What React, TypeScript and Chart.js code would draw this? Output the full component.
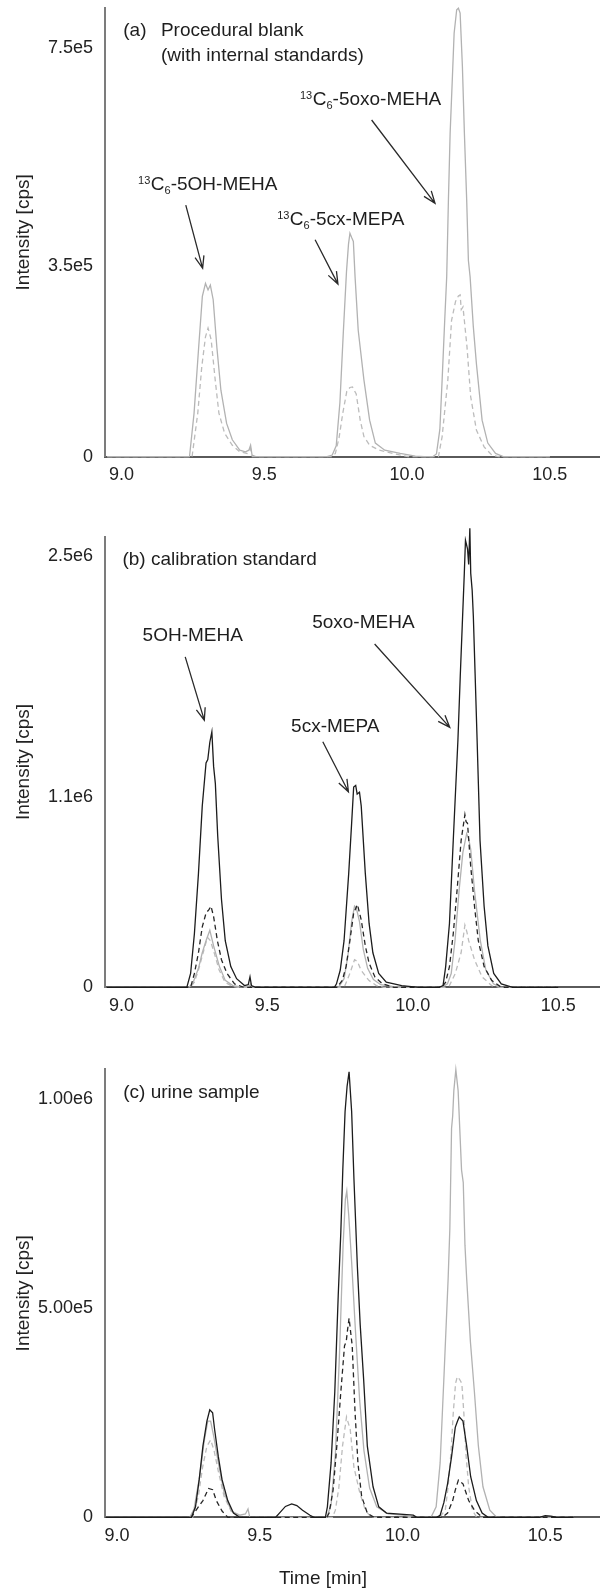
import React, { useEffect, useRef } from 'react';
import { Chart, registerables } from 'chart.js';

Chart.register(...registerables);

const FONT = "'Liberation Sans', Arial, sans-serif";

// ---- axis ticks ----
const X_TICKS = [9.0, 9.5, 10.0, 10.5];
const X_TICK_LABELS = ['9.0', '9.5', '10.0', '10.5'];

const A_Y_TICKS = [0, 350000, 750000];
const A_Y_LABELS = ['0', '3.5e5', '7.5e5'];
const B_Y_TICKS = [0, 1100000, 2500000];
const B_Y_LABELS = ['0', '1.1e6', '2.5e6'];
const C_Y_TICKS = [0, 500000, 1000000];
const C_Y_LABELS = ['0', '5.00e5', '1.00e6'];

// ---- panel (a): procedural blank, internal standards only [time min, intensity cps] ----
const A_IS_SOLID: [number, number][] = [
  [8.95, 0], [9.2, 0], [9.238, 0], [9.254, 8e4], [9.27, 2.0e5], [9.283, 2.94e5], [9.294, 3.18e5], [9.303, 3.06e5],
  [9.311, 3.15e5], [9.321, 2.88e5], [9.334, 2.0e5], [9.348, 1.22e5], [9.368, 6.1e4], [9.388, 3.1e4], [9.414, 1.2e4],
  [9.434, 9e3], [9.446, 1.2e4], [9.452, 2.1e4], [9.457, 3e3], [9.47, 0],
  [9.72, 0], [9.738, 3e3], [9.752, 2e4], [9.765, 1.0e5], [9.777, 2.3e5], [9.788, 3.4e5], [9.795, 3.9e5], [9.8, 4.1e5],
  [9.806, 4.02e5], [9.812, 3.95e5], [9.818, 3.3e5], [9.829, 2.32e5], [9.849, 1.41e5], [9.869, 6.7e4], [9.889, 2.5e4],
  [9.922, 1.2e4], [9.976, 6e3], [10.029, 1e3], [10.06, 0],
  [10.09, 0], [10.103, 5e3], [10.115, 5e4], [10.123, 1.41e5], [10.132, 2.5e5], [10.139, 3.3e5], [10.145, 4.71e5],
  [10.151, 5.93e5], [10.159, 6.97e5], [10.165, 7.77e5], [10.174, 8.2e5], [10.18, 8.23e5], [10.186, 8.14e5],
  [10.194, 7.16e5], [10.201, 5.93e5], [10.209, 4.71e5], [10.215, 3.6e5], [10.221, 3.3e5], [10.232, 2.4e5],
  [10.243, 1.71e5], [10.263, 6.7e4], [10.283, 2.5e4], [10.31, 6e3], [10.337, 0], [10.5, 0],
];
const A_IS_DASH: [number, number][] = [
  [8.95, 0], [9.247, 0], [9.267, 8e4], [9.281, 1.65e5], [9.294, 2.2e5], [9.303, 2.36e5], [9.309, 2.25e5], [9.314, 2.14e5],
  [9.328, 1.41e5], [9.341, 8e4], [9.361, 4.3e4], [9.388, 2.1e4], [9.414, 9e3], [9.44, 6e3], [9.452, 1.5e4], [9.458, 0],
  [9.735, 0], [9.749, 6e3], [9.762, 3.5e4], [9.775, 8e4], [9.789, 1.2e5], [9.8, 1.27e5], [9.809, 1.28e5], [9.822, 1.15e5],
  [9.836, 6.7e4], [9.849, 3.7e4], [9.869, 2.1e4], [9.902, 1.2e4], [9.949, 6e3], [10.003, 0],
  [10.11, 0], [10.123, 3.7e4], [10.143, 1.41e5], [10.156, 2.5e5], [10.17, 2.85e5], [10.18, 2.95e5], [10.186, 2.97e5],
  [10.19, 2.7e5], [10.196, 2.75e5], [10.21, 2.02e5], [10.223, 1.1e5], [10.243, 4.9e4], [10.27, 1.8e4], [10.297, 3e3],
  [10.32, 0], [10.5, 0],
];

// ---- panel (b): calibration standard ----
const B_SOLID: [number, number][] = [
  [8.95, 0], [9.224, 0], [9.237, 8e4], [9.25, 3.1e5], [9.264, 6.6e5], [9.277, 1.05e6], [9.29, 1.3e6], [9.296, 1.32e6],
  [9.303, 1.42e6], [9.31, 1.48e6], [9.316, 1.28e6], [9.322, 1.18e6], [9.33, 8.8e5], [9.343, 5.1e5], [9.356, 2.7e5],
  [9.375, 1.2e5], [9.395, 5e4], [9.422, 1e4], [9.435, 1.5e4], [9.441, 6e4], [9.446, 1e4], [9.46, 0],
  [9.731, 0], [9.738, 2e4], [9.751, 1e5], [9.764, 2.7e5], [9.78, 6.6e5], [9.79, 9.5e5], [9.797, 1.16e6], [9.804, 1.17e6],
  [9.809, 1.12e6], [9.817, 1.13e6], [9.823, 1.05e6], [9.837, 6.6e5], [9.85, 3.7e5], [9.863, 2.0e5], [9.883, 8e4],
  [9.909, 3e4], [9.962, 1e4], [10.02, 0],
  [10.09, 0], [10.104, 1e4], [10.113, 1.2e5], [10.126, 3.7e5], [10.139, 8.5e5], [10.155, 1.43e6], [10.163, 1.8e6],
  [10.17, 2.1e6], [10.177, 2.4e6], [10.181, 2.59e6], [10.188, 2.54e6], [10.192, 2.45e6], [10.196, 2.66e6],
  [10.199, 2.4e6], [10.204, 2.3e6], [10.208, 2.15e6], [10.214, 1.82e6], [10.221, 1.43e6], [10.231, 8.5e5],
  [10.245, 4.7e5], [10.258, 2.4e5], [10.278, 8e4], [10.304, 2e4], [10.343, 0], [10.5, 0],
];
const B_DASH: [number, number][] = [
  [8.95, 0], [9.237, 0], [9.25, 8e4], [9.264, 2e5], [9.277, 3.5e5], [9.29, 4.3e5], [9.3, 4.5e5], [9.307, 4.7e5],
  [9.316, 4.1e5], [9.329, 2.7e5], [9.343, 1.6e5], [9.362, 8e4], [9.388, 2e4], [9.42, 0],
  [9.74, 0], [9.758, 4e4], [9.771, 1.2e5], [9.784, 2.7e5], [9.797, 4.3e5], [9.81, 4.8e5], [9.823, 3.9e5], [9.837, 2.4e5],
  [9.85, 1.4e5], [9.87, 6e4], [9.896, 2e4], [9.935, 0],
  [10.1, 0], [10.113, 3e4], [10.126, 1.2e5], [10.139, 3.1e5], [10.152, 5.6e5], [10.166, 8.5e5], [10.179, 1.0e6],
  [10.183, 9.6e5], [10.188, 9.5e5], [10.199, 7e5], [10.212, 4.7e5], [10.225, 2.7e5], [10.245, 1.2e5], [10.271, 4e4],
  [10.304, 0], [10.5, 0],
];
const B_IS_SOLID: [number, number][] = [
  [8.95, 0], [9.23, 0], [9.244, 2e4], [9.264, 1.1e5], [9.277, 2e5], [9.29, 2.7e5], [9.303, 3.3e5], [9.316, 2.4e5],
  [9.336, 1.2e5], [9.356, 4e4], [9.382, 1e4], [9.41, 3e3], [9.438, 5e3], [9.443, 2e4], [9.448, 0],
  [9.745, 0], [9.764, 5e4], [9.777, 1.8e5], [9.79, 3.8e5], [9.8, 4.7e5], [9.806, 4.6e5], [9.817, 3.8e5], [9.83, 2.2e5],
  [9.845, 1.1e5], [9.865, 4.5e4], [9.89, 1.5e4], [9.93, 5e3], [9.98, 0],
  [10.1, 0], [10.119, 2e4], [10.132, 8e4], [10.145, 2.7e5], [10.159, 5.6e5], [10.172, 7.8e5], [10.185, 8.9e5],
  [10.192, 8.6e5], [10.199, 8e5], [10.212, 5.6e5], [10.232, 2.7e5], [10.251, 1e5], [10.277, 2e4], [10.3, 0], [10.5, 0],
];
const B_IS_DASH: [number, number][] = [
  [8.95, 0], [9.235, 0], [9.25, 3e4], [9.264, 1e5], [9.28, 2.0e5], [9.295, 2.9e5], [9.305, 2.7e5], [9.318, 2.0e5],
  [9.335, 1.0e5], [9.355, 3e4], [9.38, 5e3], [9.4, 0],
  [9.75, 0], [9.767, 1e4], [9.784, 8e4], [9.8, 1.6e5], [9.81, 1.5e5], [9.822, 1e5], [9.849, 4e4], [9.875, 1e4], [9.9, 0],
  [10.11, 0], [10.126, 1e4], [10.146, 8e4], [10.166, 2e5], [10.179, 3.6e5], [10.186, 3.2e5], [10.192, 2.7e5],
  [10.212, 1.6e5], [10.238, 6e4], [10.271, 1e4], [10.3, 0], [10.5, 0],
];

// ---- panel (c): urine sample ----
const C_SOLID: [number, number][] = [
  [8.96, 0], [9.261, 0], [9.275, 2.5e4], [9.288, 9e4], [9.301, 1.7e5], [9.315, 2.3e5], [9.325, 2.57e5], [9.335, 2.5e5],
  [9.342, 2.1e5], [9.355, 1.45e5], [9.368, 9e4], [9.388, 4e4], [9.408, 1e4], [9.43, 0],
  [9.556, 0], [9.569, 1e4], [9.59, 2.6e4], [9.612, 3.2e4], [9.63, 2.8e4], [9.65, 1.7e4], [9.676, 5e3], [9.69, 0],
  [9.73, 0], [9.737, 2.5e4], [9.75, 1.3e5], [9.763, 3.0e5], [9.775, 5.3e5], [9.784, 6.8e5], [9.791, 8.3e5], [9.799, 9.7e5],
  [9.806, 1.03e6], [9.813, 1.065e6], [9.822, 9.7e5], [9.83, 8.1e5], [9.842, 6.0e5], [9.852, 4.6e5], [9.864, 3.3e5],
  [9.877, 1.7e5], [9.897, 7.3e4], [9.917, 2.5e4], [9.944, 1e4], [10.038, 5e3], [10.05, 0],
  [10.12, 0], [10.132, 5e3], [10.145, 3.5e4], [10.158, 8e4], [10.172, 1.45e5], [10.185, 2.15e5], [10.193, 2.3e5],
  [10.199, 2.4e5], [10.212, 2.3e5], [10.225, 1.7e5], [10.239, 9.7e4], [10.259, 4e4], [10.279, 1e4], [10.3, 0],
  [10.48, 0], [10.5, 4e3], [10.52, 3e3], [10.54, 0], [10.6, 0],
];
const C_DASH: [number, number][] = [
  [8.96, 0], [9.26, 0], [9.275, 1.5e4], [9.301, 4e4], [9.321, 6.9e4], [9.335, 6.6e4], [9.348, 4e4], [9.368, 1.5e4], [9.388, 0],
  [9.735, 0], [9.743, 1e4], [9.757, 6.5e4], [9.77, 1.7e5], [9.783, 2.9e5], [9.797, 4.1e5], [9.803, 4.2e5], [9.808, 4.5e5],
  [9.813, 4.76e5], [9.824, 4.1e5], [9.834, 2.5e5], [9.844, 1.3e5], [9.857, 5e4], [9.877, 1e4], [9.9, 0],
  [10.14, 0], [10.158, 1e4], [10.176, 4e4], [10.185, 6.5e4], [10.196, 8.9e4], [10.212, 8e4], [10.232, 4e4],
  [10.252, 1.7e4], [10.279, 0], [10.6, 0],
];
const C_IS_SOLID: [number, number][] = [
  [8.96, 0], [9.255, 0], [9.27, 2e4], [9.29, 1e5], [9.305, 1.8e5], [9.318, 2.3e5], [9.328, 2.3e5], [9.34, 1.9e5],
  [9.355, 1.3e5], [9.375, 6e4], [9.4, 1.5e4], [9.43, 5e3], [9.45, 8e3], [9.459, 2e4], [9.465, 0],
  [9.735, 0], [9.75, 3e4], [9.765, 1.5e5], [9.78, 4e5], [9.792, 6.5e5], [9.8, 7.6e5], [9.805, 7.8e5], [9.812, 7.2e5],
  [9.822, 6.1e5], [9.835, 4.5e5], [9.85, 2.8e5], [9.865, 1.6e5], [9.885, 7e4], [9.91, 2.5e4], [9.95, 8e3], [10.0, 5e3],
  [10.04, 0],
  [10.1, 0], [10.118, 2.5e4], [10.132, 1.3e5], [10.145, 3.3e5], [10.16, 5.7e5], [10.166, 6.9e5], [10.172, 9.3e5],
  [10.176, 9.6e5], [10.18, 1.02e6], [10.187, 1.07e6], [10.195, 1.02e6], [10.207, 8.3e5], [10.213, 8.0e5],
  [10.219, 6.5e5], [10.225, 5.7e5], [10.238, 4.2e5], [10.252, 3.0e5], [10.266, 1.7e5], [10.282, 7.3e4],
  [10.306, 1.7e4], [10.33, 0], [10.6, 0],
];
const C_IS_DASH: [number, number][] = [
  [8.96, 0], [9.265, 0], [9.285, 5e4], [9.3, 1.2e5], [9.315, 1.7e5], [9.328, 1.85e5], [9.34, 1.6e5], [9.355, 1.1e5],
  [9.375, 5e4], [9.4, 1.5e4], [9.43, 0],
  [9.755, 0], [9.765, 1.7e4], [9.777, 7e4], [9.79, 1.7e5], [9.804, 2.4e5], [9.817, 2.1e5], [9.83, 1.2e5], [9.85, 6e4],
  [9.87, 1.7e4], [9.89, 0],
  [10.13, 0], [10.15, 1.7e4], [10.16, 7.3e4], [10.17, 1.55e5], [10.178, 2.5e5], [10.186, 3.2e5], [10.192, 3.36e5],
  [10.2, 3.3e5], [10.208, 3.2e5], [10.215, 2.5e5], [10.222, 1.55e5], [10.232, 7.3e4], [10.245, 1.7e4], [10.26, 0],
  [10.6, 0],
];

// ---- annotations (positions in data units: time, intensity) ----
type Part = [string, 'n' | 'sup' | 'sub'];
type Note = { x: number; y: number; parts: Part[]; align?: 'left' | 'center' };

const A_NOTES: Note[] = [
  { x: 9.006, y: 7.817e5, parts: [['(a)', 'n']] },
  { x: 9.138, y: 7.817e5, parts: [['Procedural blank', 'n']] },
  { x: 9.138, y: 7.352e5, parts: [['(with internal standards)', 'n']] },
  { x: 9.058, y: 4.985e5, parts: [['13', 'sup'], ['C', 'n'], ['6', 'sub'], ['-5OH-MEHA', 'n']] },
  { x: 9.545, y: 4.343e5, parts: [['13', 'sup'], ['C', 'n'], ['6', 'sub'], ['-5cx-MEPA', 'n']] },
  { x: 9.625, y: 6.545e5, parts: [['13', 'sup'], ['C', 'n'], ['6', 'sub'], ['-5oxo-MEHA', 'n']] },
];
const A_ARROWS = [
  [9.225, 4.615e5, 9.284, 3.457e5],
  [9.678, 3.982e5, 9.758, 3.167e5],
  [9.876, 6.178e5, 10.098, 4.65e5],
];
const B_NOTES: Note[] = [
  { x: 9.003, y: 2.476e6, parts: [['(b) calibration standard', 'n']] },
  { x: 9.072, y: 2.035e6, parts: [['5OH-MEHA', 'n']] },
  { x: 9.582, y: 1.508e6, parts: [['5cx-MEPA', 'n']] },
  { x: 9.6545, y: 2.112e6, parts: [['5oxo-MEHA', 'n']] },
];
const B_ARROWS = [
  [9.2185, 1.915e6, 9.284, 1.548e6],
  [9.691, 1.423e6, 9.779, 1.133e6],
  [9.869, 1.989e6, 10.127, 1.506e6],
];
const C_NOTES: Note[] = [
  { x: 9.022, y: 1.015e6, parts: [['(c) urine sample', 'n']] },
  { x: 9.7215, y: -1.475e5, parts: [['Time [min]', 'n']], align: 'center' },
];
const C_ARROWS: number[][] = [];

// ---- styles ----
const GRAY = '#b2b2b2';
const GRAY_D = '#bcbcbc';
const BLACK = '#1c1c1c';
const BLACK_D = '#262626';
const DASH = [5, 3.5];

type SeriesCfg = { pts: [number, number][]; color: string; dash: number[] };
type PanelCfg = {
  top: number; height: number; padTop: number; xAxisH: number;
  xMin: number; xMax: number; yMax: number;
  yTicks: number[]; yLabels: string[];
  series: SeriesCfg[]; notes: Note[]; arrows: number[][];
};

const PANELS: PanelCfg[] = [
  {
    top: 0, height: 510, padTop: 8, xAxisH: 53.3, xMin: 8.942, xMax: 10.676, yMax: 8.233e5,
    yTicks: A_Y_TICKS, yLabels: A_Y_LABELS,
    series: [
      { pts: A_IS_SOLID, color: GRAY, dash: [] },
      { pts: A_IS_DASH, color: GRAY_D, dash: DASH },
    ],
    notes: A_NOTES, arrows: A_ARROWS,
  },
  {
    top: 520, height: 520, padTop: 16.7, xAxisH: 52.7, xMin: 8.943, xMax: 10.643, yMax: 2.611e6,
    yTicks: B_Y_TICKS, yLabels: B_Y_LABELS,
    series: [
      { pts: B_SOLID, color: BLACK, dash: [] },
      { pts: B_DASH, color: BLACK_D, dash: DASH },
      { pts: B_IS_SOLID, color: GRAY, dash: [] },
      { pts: B_IS_DASH, color: GRAY_D, dash: DASH },
    ],
    notes: B_NOTES, arrows: B_ARROWS,
  },
  {
    top: 1050, height: 541, padTop: 19.3, xAxisH: 73.7, xMin: 8.958, xMax: 10.692, yMax: 1.071e6,
    yTicks: C_Y_TICKS, yLabels: C_Y_LABELS,
    series: [
      { pts: C_SOLID, color: BLACK, dash: [] },
      { pts: C_DASH, color: BLACK_D, dash: DASH },
      { pts: C_IS_SOLID, color: GRAY, dash: [] },
      { pts: C_IS_DASH, color: GRAY_D, dash: DASH },
    ],
    notes: C_NOTES, arrows: C_ARROWS,
  },
];

function makeNotesPlugin(notes: Note[], arrows: number[][]) {
  return {
    id: 'notes',
    afterDraw(chart: any) {
      const ctx: CanvasRenderingContext2D = chart.ctx;
      const xs = chart.scales.x;
      const ys = chart.scales.y;
      ctx.save();
      ctx.fillStyle = '#1e1e1e';
      ctx.textBaseline = 'middle';
      ctx.textAlign = 'left';
      const fontFor = (k: string) => `${k === 'n' ? 19 : 11}px ${FONT}`;
      for (const n of notes) {
        let px = xs.getPixelForValue(n.x);
        const py = ys.getPixelForValue(n.y);
        if (n.align === 'center') {
          let w = 0;
          for (const [t, k] of n.parts) { ctx.font = fontFor(k); w += ctx.measureText(t).width; }
          px -= w / 2;
        }
        for (const [t, k] of n.parts) {
          ctx.font = fontFor(k);
          const dy = k === 'sup' ? -4 : k === 'sub' ? 6 : 0;
          ctx.fillText(t, px, py + dy);
          px += ctx.measureText(t).width + (k === 'sup' ? 0.5 : 0);
        }
      }
      ctx.strokeStyle = '#2a2a2a';
      ctx.lineWidth = 1.3;
      for (const [x1, y1, x2, y2] of arrows) {
        const ax = xs.getPixelForValue(x1), ay = ys.getPixelForValue(y1);
        const bx = xs.getPixelForValue(x2), by = ys.getPixelForValue(y2);
        const ang = Math.atan2(by - ay, bx - ax);
        const L = 13, s = 0.36;
        ctx.beginPath();
        ctx.moveTo(ax, ay); ctx.lineTo(bx, by);
        ctx.moveTo(bx - L * Math.cos(ang - s), by - L * Math.sin(ang - s));
        ctx.lineTo(bx, by);
        ctx.lineTo(bx - L * Math.cos(ang + s), by - L * Math.sin(ang + s));
        ctx.stroke();
      }
      ctx.restore();
    },
  };
}

const zeroPad = (s: any) => { s.paddingTop = 0; s.paddingBottom = 0; s.paddingLeft = 0; s.paddingRight = 0; };

function Panel({ cfg }: { cfg: PanelCfg }) {
  const ref = useRef<HTMLCanvasElement>(null);
  useEffect(() => {
    const canvas = ref.current!;
    const chart = new Chart(canvas, {
      type: 'line',
      data: {
        datasets: cfg.series.map((s) => ({
          data: s.pts.map(([x, y]) => ({ x, y })),
          borderColor: s.color,
          borderDash: s.dash,
          borderWidth: 1.3,
          pointRadius: 0,
          tension: 0,
          fill: false,
          clip: false as any,
        })),
      },
      options: {
        responsive: false,
        animation: false,
        events: [],
        layout: { autoPadding: false, padding: { top: cfg.padTop, left: 0, right: 0, bottom: 0 } },
        plugins: { legend: { display: false }, tooltip: { enabled: false }, title: { display: false } },
        scales: {
          x: {
            type: 'linear',
            bounds: 'data',
            offset: false,
            min: cfg.xMin,
            max: cfg.xMax,
            afterBuildTicks: (s: any) => { s.ticks = X_TICKS.map((v) => ({ value: v })); },
            afterFit: (s: any) => { s.height = cfg.xAxisH; zeroPad(s); },
            grid: { display: false, drawTicks: false },
            border: { display: true, color: '#5a5a5a', width: 2 },
            ticks: {
              autoSkip: false,
              maxRotation: 0,
              padding: 8,
              color: '#222',
              font: { family: FONT, size: 18 },
              callback: (v: any) => X_TICK_LABELS[X_TICKS.findIndex((t) => Math.abs(t - Number(v)) < 1e-9)] ?? '',
            },
          },
          y: {
            type: 'linear',
            bounds: 'data',
            min: 0,
            max: cfg.yMax,
            afterBuildTicks: (s: any) => { s.ticks = cfg.yTicks.map((v) => ({ value: v })); },
            afterFit: (s: any) => { s.width = 105; zeroPad(s); },
            grid: { display: false, drawTicks: false },
            border: { display: true, color: '#7c7c7c', width: 2 },
            title: {
              display: true,
              text: 'Intensity [cps]',
              color: '#222',
              font: { family: FONT, size: 19 },
              padding: { top: 12, bottom: 0 },
            },
            ticks: {
              autoSkip: false,
              padding: 12,
              color: '#222',
              font: { family: FONT, size: 18 },
              callback: (v: any) => cfg.yLabels[cfg.yTicks.findIndex((t) => Math.abs(t - Number(v)) < 1e-6)] ?? '',
            },
          },
        },
      } as any,
      plugins: [makeNotesPlugin(cfg.notes, cfg.arrows)],
    });
    return () => chart.destroy();
  }, []);
  return (
    <div style={{ position: 'absolute', left: 0, top: cfg.top, width: 600, height: cfg.height }}>
      <canvas ref={ref} width={600} height={cfg.height} style={{ display: 'block', width: 600, height: cfg.height }} />
    </div>
  );
}

export default function App() {
  return (
    <div style={{ position: 'absolute', left: 0, top: 0, width: 600, height: 1591, background: '#fff', overflow: 'hidden' }}>
      {PANELS.map((p, i) => <Panel key={i} cfg={p} />)}
    </div>
  );
}
